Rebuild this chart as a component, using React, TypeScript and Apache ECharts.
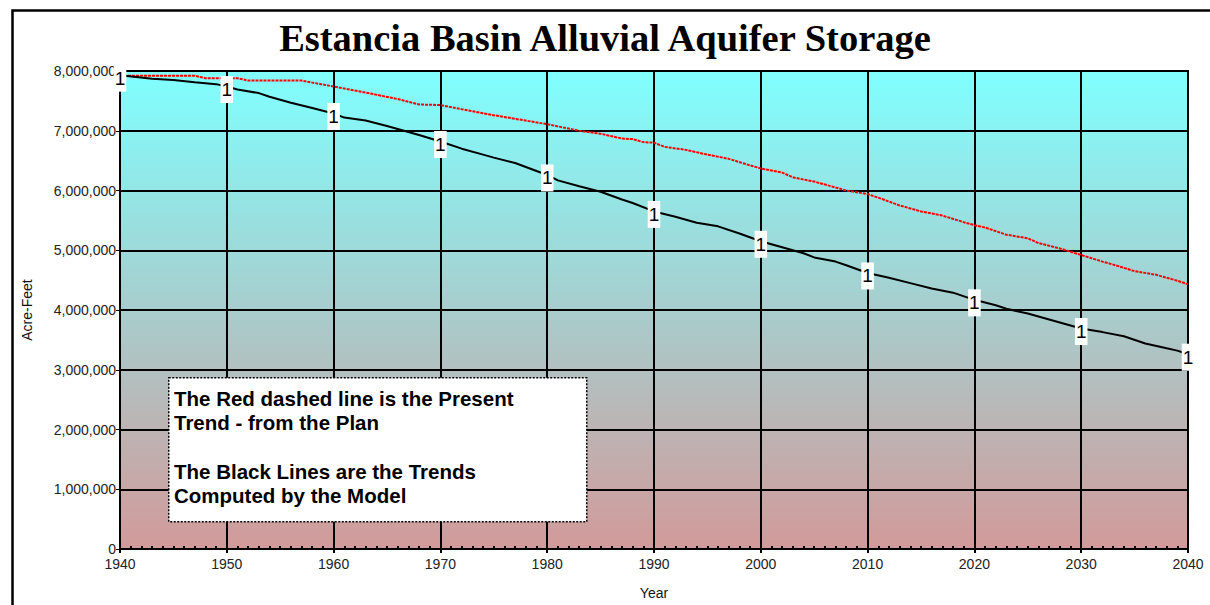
import React, { useEffect, useRef } from "react";
import * as echarts from "echarts";

const chartTitle = "Estancia Basin Alluvial Aquifer Storage";
const yAxisName = "Acre-Feet";
const xAxisName = "Year";

const blackYears = [1940, 1943, 1945, 1947, 1949, 1950, 1951, 1953, 1954, 1956, 1958, 1960, 1961, 1963, 1965, 1966, 1968, 1970, 1972, 1974, 1975, 1977, 1980, 1981, 1983, 1985, 1987, 1988, 1990, 1992, 1994, 1996, 1998, 2000, 2002, 2004, 2005, 2007, 2008, 2010, 2012, 2014, 2016, 2018, 2020, 2022, 2023, 2025, 2027, 2028, 2030, 2032, 2034, 2036, 2038, 2039, 2040];
const blackValues = [7930000, 7870000, 7850000, 7810000, 7780000, 7740000, 7690000, 7630000, 7570000, 7470000, 7380000, 7290000, 7220000, 7170000, 7080000, 7030000, 6930000, 6820000, 6700000, 6600000, 6550000, 6460000, 6260000, 6170000, 6070000, 5980000, 5850000, 5790000, 5650000, 5560000, 5460000, 5400000, 5280000, 5150000, 5050000, 4950000, 4880000, 4810000, 4750000, 4620000, 4540000, 4450000, 4360000, 4290000, 4170000, 4080000, 4020000, 3940000, 3840000, 3790000, 3690000, 3630000, 3560000, 3440000, 3360000, 3320000, 3260000];

const redYears = [1940, 1947, 1948, 1951, 1952, 1957, 1960, 1963, 1966, 1968, 1970, 1972, 1975, 1978, 1980, 1983, 1985, 1987, 1988, 1989, 1990, 1991, 1993, 1995, 1997, 1999, 2000, 2002, 2003, 2005, 2006, 2008, 2010, 2011, 2013, 2015, 2017, 2019, 2020, 2021, 2023, 2025, 2026, 2028, 2030, 2032, 2033, 2035, 2037, 2039, 2040];
const redValues = [7920000, 7920000, 7880000, 7880000, 7840000, 7840000, 7740000, 7640000, 7530000, 7440000, 7430000, 7360000, 7260000, 7170000, 7110000, 7000000, 6950000, 6870000, 6860000, 6810000, 6800000, 6730000, 6680000, 6600000, 6530000, 6420000, 6370000, 6300000, 6220000, 6150000, 6100000, 6000000, 5940000, 5880000, 5750000, 5650000, 5580000, 5470000, 5420000, 5380000, 5260000, 5200000, 5120000, 5030000, 4920000, 4810000, 4760000, 4650000, 4590000, 4490000, 4430000];

const labelYears = [1940, 1950, 1960, 1970, 1980, 1990, 2000, 2010, 2020, 2030, 2040];
const labelText = "1";

const noteLines = [
  "The Red dashed line is the Present",
  "Trend - from the Plan",
  "",
  "The Black Lines are the Trends",
  "Computed by the Model",
];

export default function App() {
  const ref = useRef<HTMLDivElement>(null);
  useEffect(() => {
    if (!ref.current) return;
    const chart = echarts.init(ref.current, null, { renderer: "svg" });
    const blackData = blackYears.map((y, i) => [y, blackValues[i]]);
    const redData = redYears.map((y, i) => [y, redValues[i]]);
    const labelData = labelYears.map((y) => {
      const idx = blackYears.indexOf(y);
      return [y, blackValues[idx]];
    });
    const font = "'Liberation Sans', Arial, sans-serif";
    chart.setOption({
      animation: false,
      backgroundColor: "#ffffff",
      title: {
        text: chartTitle,
        left: "center",
        top: 13,
        textStyle: {
          fontFamily: "'Liberation Serif', 'Times New Roman', serif",
          fontWeight: "bold",
          fontSize: 38.5,
          color: "#000",
        },
      },
      grid: {
        left: 120,
        top: 71,
        right: 22,
        bottom: 56,
        show: true,
        borderColor: "#000",
        borderWidth: 2,
        backgroundColor: {
          type: "linear",
          x: 0,
          y: 0,
          x2: 0,
          y2: 1,
          colorStops: [
            { offset: 0, color: "#80FFFF" },
            { offset: 0.5, color: "#A8CDCD" },
            { offset: 1, color: "#D29A9A" },
          ],
        },
      },
      xAxis: [
        {
          type: "value",
          min: 1940,
          max: 2040,
          interval: 10,
          name: xAxisName,
          nameLocation: "middle",
          nameGap: 37,
          nameTextStyle: { fontFamily: font, fontSize: 14, color: "#111" },
          axisLine: { show: true, lineStyle: { color: "#000", width: 2 } },
          axisTick: { show: true, length: 4, lineStyle: { color: "#000", width: 2 } },
          axisLabel: {
            fontFamily: font,
            fontSize: 14,
            color: "#222",
            margin: 8,
            formatter: (v: number) => String(v),
          },
          splitLine: { show: true, lineStyle: { color: "#000", width: 2 } },
        },
        {
          type: "value",
          min: 1940,
          max: 2040,
          interval: 1,
          position: "bottom",
          axisLine: { show: false },
          axisTick: { show: true, inside: true, length: 3, lineStyle: { color: "#000", width: 2 } },
          axisLabel: { show: false },
          splitLine: { show: false },
        },
      ],
      yAxis: {
        type: "value",
        min: 0,
        max: 8000000,
        interval: 1000000,
        name: yAxisName,
        nameLocation: "middle",
        nameGap: 86,
        nameTextStyle: { fontFamily: font, fontSize: 14, color: "#111" },
        axisLine: { show: true, lineStyle: { color: "#000", width: 2 } },
        axisTick: { show: true, length: 4, lineStyle: { color: "#000", width: 1 } },
        axisLabel: {
          fontFamily: font,
          fontSize: 14,
          color: "#222",
          margin: 4,
          formatter: (v: number) => v.toLocaleString("en-US"),
        },
        splitLine: { show: true, lineStyle: { color: "#000", width: 2 } },
      },
      series: [
        {
          type: "line",
          name: "Present Trend",
          data: redData,
          showSymbol: false,
          lineStyle: { color: "#FF0000", width: 2, type: [3, 1] },
          z: 3,
        },
        {
          type: "line",
          name: "Model",
          data: blackData,
          showSymbol: false,
          lineStyle: { color: "#000", width: 2 },
          z: 4,
        },
        {
          type: "scatter",
          name: "labels",
          data: labelData,
          symbolSize: 1,
          itemStyle: { opacity: 0 },
          z: 5,
          label: {
            show: true,
            position: "inside",
            formatter: labelText,
            offset: [0, 3],
            fontFamily: font,
            fontSize: 19,
            lineHeight: 19,
            color: "#000",
            opacity: 1,
            backgroundColor: "#ffffff",
            padding: [5, 1, 3, 1],
          },
        },
      ],
      graphic: [
        {
          type: "rect",
          left: 10,
          top: 8,
          shape: { width: 1300, height: 700 },
          style: { fill: "none", stroke: "#000", lineWidth: 2.5 },
          silent: true,
          z: 100,
        },
        {
          type: "rect",
          left: 168,
          top: 377,
          z: 100,
          shape: { x: 0, y: 0, width: 418, height: 144 },
          style: { fill: "#fff", stroke: "#000", lineWidth: 1.5, lineDash: [2, 1.5] },
        },
        {
          type: "text",
          left: 174,
          top: 386,
          z: 101,
          style: {
            text: noteLines.join("\n"),
            fontFamily: font,
            fontWeight: "bold",
            fontSize: 20.5,
            lineHeight: 24.4,
            fill: "#000",
          },
        },
      ],
    });
    return () => chart.dispose();
  }, []);
  return (
    <div
      ref={ref}
      style={{ position: "fixed", left: 0, top: 0, width: 1210, height: 605 }}
    />
  );
}
